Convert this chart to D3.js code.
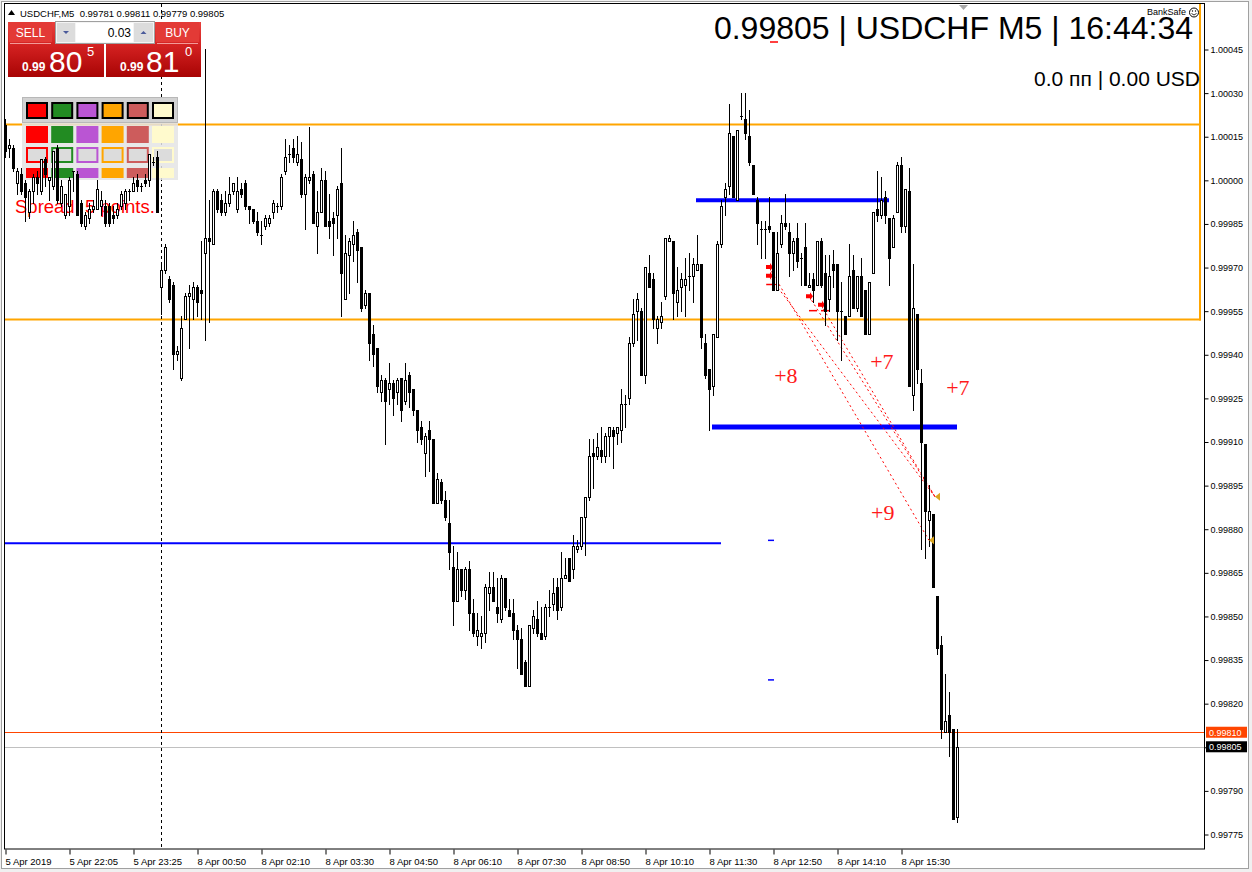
<!DOCTYPE html>
<html>
<head>
<meta charset="utf-8">
<script src="https://cdn.jsdelivr.net/npm/d3@7"></script>
<style>
  html, body { margin: 0; padding: 0; background: #fff; }
  svg { display: block; }
</style>
</head>
<body>
<svg id="chart"></svg>
<script>
// USDCHF M5, bars from 5 Apr 20:45 to 8 Apr 16:40
// each bar: [open, high, low, close]
const candles = [
  [1.00019,1.00021,1.00008,1.00010],[1.00011,1.00014,1.00008,1.00012],[1.00011,1.00012,1.00003,1.00004],[0.99999,1.00004,0.99995,1.00003],
  [1.00002,1.00004,0.99995,0.99996],[0.99999,1.00000,0.99986,0.99994],[0.99989,0.99997,0.99987,0.99996],[0.99996,1.00002,0.99992,1.00001],
  [1.00001,1.00003,0.99995,0.99999],[0.99996,1.00007,0.99995,1.00007],[1.00007,1.00008,0.99998,1.00002],[1.00000,1.00001,0.99993,1.00001],
  [0.99998,1.00010,0.99997,1.00010],[1.00011,1.00012,0.99992,0.99993],[0.99992,1.00000,0.99991,0.99998],[0.99988,0.99995,0.99987,0.99995],
  [0.99991,1.00001,0.99988,1.00000],[1.00003,1.00003,0.99996,1.00003],[1.00002,1.00003,0.99988,0.99988],[0.99992,0.99993,0.99984,0.99985],
  [0.99984,0.99989,0.99983,0.99988],[0.99987,0.99992,0.99985,0.99990],[0.99990,0.99993,0.99989,0.99991],[0.99990,1.00000,0.99990,0.99997],
  [0.99991,0.99996,0.99988,0.99993],[0.99991,0.99993,0.99984,0.99985],[0.99991,0.99992,0.99984,0.99985],[0.99988,0.99991,0.99985,0.99987],
  [0.99988,0.99992,0.99987,0.99990],[0.99991,0.99996,0.99990,0.99995],[0.99992,0.99997,0.99990,0.99996],[0.99996,0.99997,0.99993,0.99996],
  [0.99996,1.00001,0.99996,0.99999],[1.00000,1.00002,0.99996,0.99998],[0.99998,0.99999,0.99996,0.99998],[1.00000,1.00002,0.99998,0.99999],
  [1.00000,1.00009,0.99998,1.00009],[1.00006,1.00008,1.00005,1.00006],[1.00008,1.00010,0.99989,0.99989],
  // Monday 8 Apr
  [0.99963,0.99971,0.99954,0.99969],[0.99969,0.99978,0.99968,0.99977],[0.99966,0.99967,0.99958,0.99959],[0.99964,0.99965,0.99935,0.99940],
  [0.99940,0.99943,0.99938,0.99941],[0.99932,0.99953,0.99931,0.99949],[0.99952,0.99961,0.99952,0.99960],[0.99960,0.99964,0.99942,0.99961],
  [0.99959,0.99965,0.99952,0.99963],[0.99963,0.99964,0.99953,0.99958],[0.99962,0.99979,0.99952,0.99961],[0.99975,1.00045,0.99945,0.99980],
  [0.99980,0.99993,0.99951,0.99979],[0.99978,0.99997,0.99978,0.99996],[0.99996,0.99997,0.99989,0.99990],[0.99993,0.99995,0.99988,0.99989],
  [0.99989,0.99996,0.99988,0.99992],[0.99992,1.00001,0.99991,0.99995],[0.99996,0.99999,0.99995,0.99999],[0.99990,1.00001,0.99989,0.99996],
  [0.99997,0.99999,0.99994,0.99995],[0.99999,1.00000,0.99990,0.99991],[0.99991,0.99991,0.99985,0.99990],[0.99990,0.99990,0.99985,0.99986],
  [0.99986,0.99989,0.99981,0.99982],[0.99981,0.99986,0.99978,0.99981],[0.99984,0.99988,0.99983,0.99987],[0.99985,0.99988,0.99984,0.99987],
  [0.99989,0.99993,0.99987,0.99992],[0.99991,0.99992,0.99989,0.99991],[0.99991,1.00002,0.99990,1.00001],[1.00003,1.00014,1.00002,1.00008],
  [1.00009,1.00012,1.00006,1.00009],[1.00011,1.00014,1.00006,1.00008],[1.00006,1.00015,1.00005,1.00009],[1.00007,1.00013,0.99994,0.99995],
  [0.99995,1.00002,0.99983,1.00001],[1.00000,1.00018,0.99999,1.00001],[1.00002,1.00003,0.99985,0.99985],[0.99984,0.99996,0.99975,0.99989],
  [0.99989,1.00004,0.99989,1.00000],[1.00000,1.00003,0.99984,0.99984],[0.99986,0.99995,0.99980,0.99984],[0.99987,0.99989,0.99974,0.99985],
  [0.99988,0.99998,0.99980,0.99997],[0.99999,1.00011,0.99953,0.99968],[0.99959,0.99981,0.99959,0.99975],[0.99974,0.99980,0.99961,0.99979],
  [0.99978,0.99986,0.99972,0.99981],[0.99982,0.99983,0.99965,0.99976],[0.99977,0.99977,0.99955,0.99956],[0.99957,0.99962,0.99956,0.99961],
  [0.99961,0.99961,0.99938,0.99944],[0.99947,0.99950,0.99936,0.99940],[0.99942,0.99942,0.99927,0.99929],[0.99927,0.99933,0.99924,0.99931],
  [0.99931,0.99932,0.99909,0.99924],[0.99928,0.99937,0.99923,0.99930],[0.99930,0.99931,0.99919,0.99925],[0.99927,0.99932,0.99923,0.99931],
  [0.99932,0.99932,0.99917,0.99921],[0.99924,0.99937,0.99923,0.99931],[0.99933,0.99934,0.99922,0.99927],[0.99928,0.99928,0.99919,0.99921],
  [0.99921,0.99921,0.99910,0.99914],[0.99915,0.99917,0.99909,0.99911],[0.99906,0.99913,0.99898,0.99912],[0.99914,0.99917,0.99900,0.99911],
  [0.99911,0.99911,0.99889,0.99889],[0.99889,0.99899,0.99889,0.99897],[0.99896,0.99897,0.99889,0.99890],[0.99890,0.99893,0.99883,0.99884],
  [0.99882,0.99890,0.99866,0.99872],[0.99867,0.99874,0.99847,0.99855],[0.99855,0.99872,0.99855,0.99866],[0.99866,0.99866,0.99857,0.99859],
  [0.99859,0.99867,0.99856,0.99866],[0.99866,0.99869,0.99845,0.99851],[0.99851,0.99856,0.99843,0.99844],[0.99843,0.99851,0.99840,0.99845],
  [0.99843,0.99850,0.99839,0.99844],[0.99844,0.99861,0.99841,0.99860],[0.99858,0.99865,0.99852,0.99860],[0.99860,0.99865,0.99855,0.99855],
  [0.99853,0.99863,0.99848,0.99851],[0.99849,0.99864,0.99848,0.99863],[0.99863,0.99863,0.99852,0.99853],[0.99852,0.99856,0.99850,0.99850],
  [0.99851,0.99856,0.99842,0.99845],[0.99845,0.99847,0.99832,0.99842],[0.99842,0.99846,0.99830,0.99830],[0.99834,0.99835,0.99826,0.99826],
  [0.99826,0.99847,0.99826,0.99847],[0.99846,0.99852,0.99844,0.99850],[0.99849,0.99855,0.99843,0.99844],[0.99844,0.99853,0.99842,0.99842],
  [0.99843,0.99854,0.99842,0.99853],[0.99853,0.99859,0.99850,0.99853],[0.99854,0.99863,0.99852,0.99858],[0.99860,0.99863,0.99849,0.99852],
  [0.99853,0.99872,0.99852,0.99863],[0.99863,0.99870,0.99863,0.99864],[0.99870,0.99870,0.99862,0.99862],[0.99866,0.99878,0.99863,0.99874],
  [0.99873,0.99876,0.99872,0.99874],[0.99874,0.99884,0.99873,0.99884],[0.99884,0.99891,0.99871,0.99891],[0.99891,0.99911,0.99890,0.99905],
  [0.99906,0.99911,0.99894,0.99905],[0.99905,0.99913,0.99904,0.99908],[0.99907,0.99915,0.99903,0.99905],[0.99905,0.99913,0.99903,0.99912],
  [0.99912,0.99915,0.99905,0.99915],[0.99914,0.99915,0.99901,0.99912],[0.99913,0.99915,0.99909,0.99915],[0.99914,0.99928,0.99910,0.99923],
  [0.99923,0.99926,0.99915,0.99923],[0.99925,0.99946,0.99923,0.99944],[0.99944,0.99959,0.99943,0.99954],[0.99955,0.99961,0.99945,0.99959],
  [0.99955,0.99956,0.99933,0.99933],[0.99933,0.99970,0.99930,0.99970],[0.99968,0.99974,0.99963,0.99963],[0.99966,0.99968,0.99949,0.99952],
  [0.99949,0.99953,0.99944,0.99952],[0.99951,0.99958,0.99949,0.99953],[0.99960,0.99980,0.99959,0.99980],[0.99979,0.99981,0.99979,0.99980],
  [0.99979,0.99979,0.99952,0.99961],[0.99958,0.99970,0.99953,0.99962],[0.99963,0.99968,0.99955,0.99966],[0.99964,0.99973,0.99953,0.99966],
  [0.99967,0.99975,0.99962,0.99967],[0.99967,0.99973,0.99958,0.99971],[0.99969,0.99981,0.99969,0.99971],[0.99971,0.99971,0.99942,0.99946],
  [0.99944,0.99947,0.99932,0.99933],[0.99935,0.99935,0.99914,0.99928],[0.99929,0.99947,0.99926,0.99947],[0.99946,0.99979,0.99946,0.99978],
  [0.99978,0.99993,0.99977,0.99991],[0.99994,0.99999,0.99988,0.99997],[0.99998,1.00026,0.99995,1.00016],[1.00015,1.00015,0.99994,0.99994],
  [0.99993,1.00017,0.99993,1.00017],[1.00022,1.00030,1.00021,1.00022],[1.00021,1.00030,1.00014,1.00016],[1.00015,1.00024,1.00005,1.00006],
  [1.00005,1.00005,0.99995,0.99995],[0.99993,0.99994,0.99978,0.99985],[0.99983,0.99986,0.99973,0.99983],[0.99983,0.99986,0.99973,0.99983],
  [0.99984,0.99994,0.99982,0.99983],[0.99982,0.99982,0.99962,0.99962],[0.99962,0.99982,0.99962,0.99975],[0.99978,0.99988,0.99977,0.99985],
  [0.99985,0.99995,0.99983,0.99984],[0.99982,0.99985,0.99967,0.99975],[0.99975,0.99980,0.99969,0.99979],[0.99980,0.99985,0.99970,0.99972],
  [0.99973,0.99975,0.99964,0.99973],[0.99977,0.99985,0.99964,0.99964],[0.99963,0.99968,0.99963,0.99964],[0.99966,0.99968,0.99958,0.99962],
  [0.99964,0.99979,0.99964,0.99979],[0.99979,0.99980,0.99963,0.99964],[0.99968,0.99974,0.99950,0.99955],[0.99959,0.99974,0.99955,0.99967],
  [0.99971,0.99976,0.99963,0.99969],[0.99971,0.99971,0.99945,0.99955],[0.99955,0.99965,0.99938,0.99955],[0.99953,0.99953,0.99947,0.99947],
  [0.99953,0.99978,0.99953,0.99967],[0.99969,0.99974,0.99956,0.99956],[0.99956,0.99967,0.99955,0.99967],[0.99967,0.99973,0.99953,0.99953],
  [0.99962,0.99962,0.99947,0.99947],[0.99947,0.99965,0.99947,0.99965],[0.99968,0.99989,0.99968,0.99989],[0.99990,1.00003,0.99986,0.99988],
  [0.99988,1.00001,0.99987,0.99993],[0.99994,0.99996,0.99985,0.99988],[0.99987,0.99987,0.99964,0.99973],[0.99977,0.99988,0.99977,0.99987],
  [0.99989,1.00006,0.99989,1.00005],[1.00005,1.00008,0.99982,0.99984],[0.99984,0.99997,0.99982,0.99997],[0.99996,1.00004,0.99929,0.99929],
  [0.99926,0.99971,0.99921,0.99956],[0.99954,0.99954,0.99930,0.99935],[0.99930,0.99935,0.99873,0.99910],[0.99909,0.99909,0.99870,0.99886],
  [0.99883,0.99895,0.99874,0.99886],[0.99885,0.99885,0.99860,0.99860],[0.99857,0.99857,0.99837,0.99839],[0.99840,0.99843,0.99808,0.99811],
  [0.99810,0.99830,0.99810,0.99814],[0.99816,0.99824,0.99802,0.99810],[0.99811,0.99811,0.99780,0.99780],[0.99781,0.99811,0.99779,0.99805]
];

const timeTicks = [0, 16, 32, 48, 64, 80, 96, 112, 128, 144, 160, 176, 192, 208, 224];
const timeLabels = ["5 Apr 2019", "5 Apr 22:05", "5 Apr 23:25", "8 Apr 00:50", "8 Apr 02:10", "8 Apr 03:30",
  "8 Apr 04:50", "8 Apr 06:10", "8 Apr 07:30", "8 Apr 08:50", "8 Apr 10:10", "8 Apr 11:30",
  "8 Apr 12:50", "8 Apr 14:10", "8 Apr 15:30"];
const priceTicks = [0.99775, 0.99790, 0.99805, 0.99820, 0.99835, 0.99850, 0.99865, 0.99880, 0.99895, 0.99910,
  0.99925, 0.99940, 0.99955, 0.99970, 0.99985, 1.00000, 1.00015, 1.00030, 1.00045];

const weekStartBar = 39;
const bid = 0.99805;
const ask = 0.99810;
const orangeLevels = [1.00019, 0.99952];
// blue trend levels: [fromBar, toBar, price]
const blueLevels = [[0, 179, 0.99875], [173, 221, 0.99993], [177, 238, 0.99915]];
const blueTicks = [[191.5, 0.99876], [191.5, 0.99828]];
// closed sell trades: [openBar, openPrice, closeBar, closePrice]
const trades = [[191, 0.99970, 231, 0.99876], [191, 0.99967, 232.5, 0.99891],
  [201, 0.99960, 232.5, 0.99891], [204, 0.99957, 232.5, 0.99891]];
const stopMarks = [[191.3, 0.99964], [202, 0.99955], [205, 0.99955]];
const profitLabels = [[192.3, 0.99930, "+8"], [216.3, 0.99935, "+7"], [235.3, 0.99926, "+7"], [216.5, 0.99883, "+9"]];

const width = 1252;
const height = 872;
const plot = { left: 4, right: 1204, top: 4, bottom: 849 };

const xScale = d3.scaleLinear().domain([0, 238]).range([5, 957]);
const yScale = d3.scaleLinear().domain([0.99775, 1.00045]).range([834, 49]);

const svg = d3.select("#chart")
    .attr("width", width)
    .attr("height", height)
    .style("font-family", "'Liberation Sans', Arial, sans-serif");

const defs = svg.append("defs");
const grad = defs.append("linearGradient").attr("id", "redGrad").attr("x1", 0).attr("y1", 0).attr("x2", 0).attr("y2", 1);
grad.append("stop").attr("offset", "0%").attr("stop-color", "#e8403c");
grad.append("stop").attr("offset", "45%").attr("stop-color", "#d22020");
grad.append("stop").attr("offset", "100%").attr("stop-color", "#a80404");

// frame
svg.append("rect").attr("width", width).attr("height", height).attr("fill", "#f0f0f0");
svg.append("rect").attr("x", 1.5).attr("y", 1.5).attr("width", 1247).attr("height", 867)
    .attr("fill", "#fff").attr("stroke", "#a0a0a0");

// background objects
const bg = svg.append("g");

bg.selectAll(".orange").data(orangeLevels).enter().append("line")
    .attr("x1", plot.left).attr("x2", 1201)
    .attr("y1", d => yScale(d)).attr("y2", d => yScale(d))
    .attr("stroke", "#ffa500").attr("stroke-width", 2);
bg.append("line")
    .attr("x1", 1200).attr("x2", 1200)
    .attr("y1", plot.top).attr("y2", yScale(orangeLevels[1]) + 1)
    .attr("stroke", "#ffa500").attr("stroke-width", 2);

bg.append("line")
    .attr("x1", plot.left).attr("x2", plot.right)
    .attr("y1", Math.round(yScale(ask)) + 0.5).attr("y2", Math.round(yScale(ask)) + 0.5)
    .attr("stroke", "#ff4500");
bg.append("line")
    .attr("x1", plot.left).attr("x2", plot.right)
    .attr("y1", Math.round(yScale(bid)) + 0.5).attr("y2", Math.round(yScale(bid)) + 0.5)
    .attr("stroke", "#c0c0c0");

bg.append("line")
    .attr("x1", xScale(weekStartBar) + 0.5).attr("x2", xScale(weekStartBar) + 0.5)
    .attr("y1", plot.top).attr("y2", plot.bottom)
    .attr("stroke", "#000").attr("stroke-dasharray", "3,3");

const blueWidths = [2, 4, 5];
bg.selectAll(".blue").data(blueLevels).enter().append("line")
    .attr("x1", d => xScale(d[0]) - 1).attr("x2", d => xScale(d[1]))
    .attr("y1", d => yScale(d[2])).attr("y2", d => yScale(d[2]))
    .attr("stroke", "#0000ff").attr("stroke-width", (d, i) => blueWidths[i]);
bg.selectAll(".bluetick").data(blueTicks).enter().append("line")
    .attr("x1", d => xScale(d[0]) - 3).attr("x2", d => xScale(d[0]) + 3)
    .attr("y1", d => yScale(d[1])).attr("y2", d => yScale(d[1]))
    .attr("stroke", "#0000ff").attr("stroke-width", 1.5);

// colour picker panel
const pal = ["#ff0000", "#228b22", "#ba55d3", "#ffa500", "#cd5c5c", "#fffacd"];
const panel = svg.append("g");
panel.append("rect").attr("x", 22).attr("y", 121).attr("width", 156).attr("height", 59)
    .attr("fill", "#e4e4e4").attr("opacity", 0.85);
panel.append("rect").attr("x", 22.5).attr("y", 97.5).attr("width", 155).attr("height", 25)
    .attr("fill", "#d2d2d2").attr("stroke", "#b8b8b8");
pal.forEach((c, i) => {
  const x0 = 27 + i * 25.2;
  panel.append("rect").attr("x", x0).attr("y", 103).attr("width", 20).attr("height", 15)
      .attr("fill", c).attr("stroke", "#000").attr("stroke-width", 2);
  panel.append("rect").attr("x", x0 - 1).attr("y", 126).attr("width", 22).attr("height", 17).attr("fill", c);
  panel.append("rect").attr("x", x0).attr("y", 148).attr("width", 20).attr("height", 14)
      .attr("fill", "#dcdcdc").attr("stroke", c).attr("stroke-width", 2);
  panel.append("rect").attr("x", x0 - 1).attr("y", 168).attr("width", 22).attr("height", 10).attr("fill", c);
});

svg.append("text").attr("x", 15).attr("y", 213).text("Spread: 5 points.")
    .attr("font-size", 18.5).attr("fill", "#ff0000");

// trade history
const tr = svg.append("g");
tr.selectAll(".trade").data(trades).enter().append("line")
    .attr("x1", d => xScale(d[0])).attr("y1", d => yScale(d[1]))
    .attr("x2", d => xScale(d[2])).attr("y2", d => yScale(d[3]))
    .attr("stroke", "#ff0000").attr("stroke-width", 1).attr("stroke-dasharray", "2,3");
tr.selectAll(".openmark").data(trades).enter().append("path")
    .attr("transform", d => `translate(${xScale(d[0])},${yScale(d[1])})`)
    .attr("d", "M-3,-2 L1,-2 L1,-4 L4,0 L1,4 L1,2 L-3,2 Z")
    .attr("fill", "#ff0000");
tr.selectAll(".stopmark").data(stopMarks).enter().append("line")
    .attr("x1", d => xScale(d[0]) - 4).attr("x2", d => xScale(d[0]) + 4)
    .attr("y1", d => yScale(d[1])).attr("y2", d => yScale(d[1]))
    .attr("stroke", "#ff0000").attr("stroke-width", 1.5);
tr.selectAll(".profit").data(profitLabels).enter().append("text")
    .attr("x", d => xScale(d[0])).attr("y", d => yScale(d[1]))
    .text(d => d[2])
    .attr("font-family", "'Liberation Serif', 'Times New Roman', serif")
    .attr("font-size", 22).attr("fill", "#ff1a1a");

// candles
const cg = svg.append("g").attr("shape-rendering", "crispEdges");
const bars = cg.selectAll("g.bar").data(candles).enter().append("g");
bars.append("line")
    .attr("x1", (d, i) => Math.round(xScale(i)) + 0.5)
    .attr("x2", (d, i) => Math.round(xScale(i)) + 0.5)
    .attr("y1", d => Math.round(yScale(d[1])))
    .attr("y2", d => Math.round(yScale(d[2])) + 1)
    .attr("stroke", "#000");
bars.each(function(d, i) {
  const g = d3.select(this);
  const cx = Math.round(xScale(i));
  const yo = Math.round(yScale(d[0]));
  const yc = Math.round(yScale(d[3]));
  const top = Math.min(yo, yc), bot = Math.max(yo, yc);
  if (d[3] > d[0]) {
    g.append("rect").attr("x", cx - 0.5).attr("y", top + 0.5)
        .attr("width", 2).attr("height", Math.max(bot - top, 1))
        .attr("fill", "#fff").attr("stroke", "#000");
  } else if (d[3] < d[0]) {
    g.append("rect").attr("x", cx - 1).attr("y", top)
        .attr("width", 3).attr("height", Math.max(bot - top + 1, 2))
        .attr("fill", "#000");
  } else {
    g.append("rect").attr("x", cx - 1).attr("y", top).attr("width", 3).attr("height", 1).attr("fill", "#000");
  }
});

// close arrows sit on top of the bars
svg.selectAll(".closemark").data(trades.filter((d, i) => i < 2)).enter().append("path")
    .attr("transform", d => `translate(${xScale(d[2]) + 3},${yScale(d[3])})`)
    .attr("d", "M-3,0 L2,-4 L2,4 Z")
    .attr("fill", "#daa520");

// plot frame
svg.append("rect").attr("x", plot.left + 0.5).attr("y", plot.top - 0.5)
    .attr("width", plot.right - plot.left).attr("height", plot.bottom - plot.top + 0.5)
    .attr("fill", "none").attr("stroke", "#000");

// axes
const xAxis = d3.axisBottom(xScale)
    .tickValues(timeTicks)
    .tickFormat((d, i) => timeLabels[i])
    .tickSize(5)
    .tickSizeOuter(0);
const gx = svg.append("g")
    .attr("transform", `translate(0.5, ${plot.bottom + 0.5})`)
    .call(xAxis);
gx.select(".domain").remove();
gx.selectAll("text")
    .attr("text-anchor", "start").attr("x", -0.5).attr("y", 9)
    .attr("font-family", "'Liberation Sans', Arial, sans-serif")
    .attr("font-size", 9.5).attr("fill", "#000");

const yAxis = d3.axisRight(yScale)
    .tickValues(priceTicks)
    .tickFormat(d3.format(".5f"))
    .tickSize(4)
    .tickPadding(2)
    .tickSizeOuter(0);
const gy = svg.append("g")
    .attr("transform", `translate(${plot.right + 0.5}, 0.5)`)
    .call(yAxis);
gy.select(".domain").remove();
gy.selectAll("text")
    .attr("font-family", "'Liberation Sans', Arial, sans-serif")
    .attr("font-size", 9).attr("fill", "#000");

// price tags
[[ask, "#ff4500"], [bid, "#000"]].forEach(([p, c]) => {
  const y = yScale(p);
  svg.append("rect").attr("x", 1206).attr("y", y - 5.5).attr("width", 41).attr("height", 11).attr("fill", c);
  svg.append("text").attr("x", 1209).attr("y", y + 3.5).text(d3.format(".5f")(p))
      .attr("font-size", 9).attr("fill", "#fff");
});

// header texts
svg.append("path").attr("d", "M8,15 L11.5,10 L15,15 Z").attr("fill", "#000");
svg.append("text").attr("x", 20).attr("y", 16.5)
    .text("USDCHF,M5  0.99781 0.99811 0.99779 0.99805")
    .attr("font-size", 9.5).attr("fill", "#000").style("white-space", "pre");
svg.append("path").attr("d", "M959,5 L968,5 L963.5,10 Z").attr("fill", "#a8a8a8");

svg.append("text").attr("x", 1193).attr("y", 39).attr("text-anchor", "end")
    .text("0.99805 | USDCHF M5 | 16:44:34")
    .attr("font-size", 32).attr("fill", "#000");
svg.append("line").attr("x1", 770).attr("x2", 778).attr("y1", 42).attr("y2", 42)
    .attr("stroke", "#ff0000").attr("stroke-width", 1.5);
svg.append("text").attr("x", 1200).attr("y", 86).attr("text-anchor", "end")
    .text("0.0 пп | 0.00 USD")
    .attr("font-size", 21).attr("fill", "#000");
svg.append("text").attr("x", 1147).attr("y", 14.5).text("BankSafe")
    .attr("font-size", 9).attr("fill", "#000");
svg.append("circle").attr("cx", 1194).attr("cy", 12.5).attr("r", 4.5)
    .attr("fill", "none").attr("stroke", "#000");
svg.append("path").attr("d", "M1191.5,13.5 Q1194,16.5 1196.5,13.5").attr("fill", "none").attr("stroke", "#000").attr("stroke-width", 0.8);
svg.append("circle").attr("cx", 1192.5).attr("cy", 11).attr("r", 0.7).attr("fill", "#000");
svg.append("circle").attr("cx", 1195.5).attr("cy", 11).attr("r", 0.7).attr("fill", "#000");

// one-click trade panel
const ot = svg.append("g");
ot.append("rect").attr("x", 8).attr("y", 22).attr("width", 96).attr("height", 55).attr("fill", "url(#redGrad)");
ot.append("rect").attr("x", 106).attr("y", 22).attr("width", 95).attr("height", 55).attr("fill", "url(#redGrad)");
ot.append("rect").attr("x", 9).attr("y", 22).attr("width", 43).attr("height", 20).attr("fill", "#e33a36");
ot.append("rect").attr("x", 156).attr("y", 22).attr("width", 43).attr("height", 20).attr("fill", "#e33a36");
ot.append("line").attr("x1", 10).attr("x2", 51).attr("y1", 43.5).attr("y2", 43.5).attr("stroke", "#f39a98");
ot.append("line").attr("x1", 157).attr("x2", 198).attr("y1", 43.5).attr("y2", 43.5).attr("stroke", "#f39a98");
ot.append("text").attr("x", 30.5).attr("y", 37).attr("text-anchor", "middle").text("SELL")
    .attr("font-size", 12).attr("fill", "#fff");
ot.append("text").attr("x", 177.5).attr("y", 37).attr("text-anchor", "middle").text("BUY")
    .attr("font-size", 12).attr("fill", "#fff");
ot.append("rect").attr("x", 55.5).attr("y", 21.5).attr("width", 99).attr("height", 22)
    .attr("fill", "#f4f4f4").attr("stroke", "#a0a0a0");
ot.append("rect").attr("x", 57).attr("y", 23).attr("width", 18).attr("height", 19).attr("fill", "#dcdcdc");
ot.append("rect").attr("x", 134).attr("y", 23).attr("width", 19).attr("height", 19).attr("fill", "#dcdcdc");
ot.append("rect").attr("x", 76).attr("y", 23).attr("width", 57).attr("height", 19).attr("fill", "#fff");
ot.append("path").attr("d", "M63,31 L69,31 L66,34 Z").attr("fill", "#4a5a9a");
ot.append("path").attr("d", "M140.5,34 L146.5,34 L143.5,31 Z").attr("fill", "#4a5a9a");
ot.append("text").attr("x", 131).attr("y", 37).attr("text-anchor", "end").text("0.03")
    .attr("font-size", 12).attr("fill", "#000");
[[22, 49, 87, "80", "5"], [120, 146, 185, "81", "0"]].forEach(([x1, x2, x3, big, sup]) => {
  ot.append("text").attr("x", x1).attr("y", 71).text("0.99")
      .attr("font-size", 12).attr("font-weight", "bold").attr("fill", "#fff");
  ot.append("text").attr("x", x2).attr("y", 72).text(big)
      .attr("font-size", 30).attr("fill", "#fff");
  ot.append("text").attr("x", x3).attr("y", 56).text(sup)
      .attr("font-size", 13).attr("fill", "#fff");
});
</script>
</body>
</html>
